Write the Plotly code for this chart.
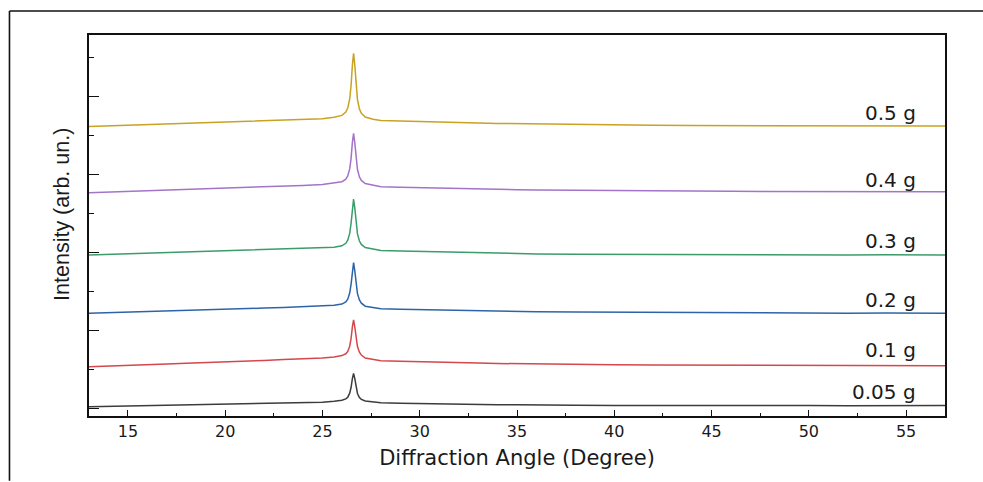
import plotly.graph_objects as go

# Diffraction angle grid (degrees)
angle = [13, 14, 15, 16, 17, 18, 19, 20, 21, 22, 23, 24, 25, 25.6, 26.0, 26.2, 26.3, 26.4,
         26.47, 26.54, 26.6, 26.66, 26.73, 26.8, 26.9, 27.0, 27.2, 27.6, 28, 29, 30, 31, 32,
         33, 34, 35, 36, 38, 40, 42, 44, 46, 48, 50, 52, 54, 55, 56, 57]

# Stacked intensities (arb. units)
i_005 = [1.6, 2.0, 1.9, 2.4, 2.6, 3.1, 3.3, 3.9, 4.1, 4.7, 5.0, 5.6, 6.1, 7.1, 8.0, 9.4, 11.1, 15.1,
         20.8, 30.0, 35.0, 29.9, 20.7, 14.8, 10.8, 8.9, 7.3, 6.3, 5.5, 5.1, 4.7, 4.5, 4.1,
         4.0, 3.6, 3.5, 3.2, 3.1, 2.9, 3.0, 2.7, 2.9, 2.6, 2.8, 2.6, 2.9, 3.1, 2.7, 2.8]
i_01 = [41.6, 42.1, 42.9, 43.4, 44.3, 45.0, 45.6, 46.4, 47.0, 47.9, 48.8, 49.5, 50.3, 51.4, 52.7,
        54.5, 56.9, 62.1, 69.7, 81.7, 88.3, 81.6, 69.5, 61.7, 56.1, 53.2, 50.2, 48.6, 47.6, 47.0,
        46.4, 46.0, 45.5, 45.2, 44.8, 44.5, 44.2, 43.8, 43.6, 43.3, 43.2, 43.0, 42.8, 42.9, 42.6,
        42.8, 42.5, 42.7, 42.6]
i_02 = [95.0, 95.5, 96.1, 96.6, 97.2, 97.7, 98.4, 98.9, 99.5, 100.2, 100.8, 101.4, 102.0, 103.0,
        104.2, 106.4, 109.1, 115.2, 124.0, 138.0, 145.6, 137.8, 123.7, 114.7, 108.3, 105.1, 102.1,
        100.5, 99.6, 99.0, 98.6, 98.2, 97.9, 97.5, 97.3, 96.9, 96.6, 96.2, 96.0, 95.7, 95.6, 95.4,
        95.2, 95.4, 95.1, 95.3, 95.0, 95.2, 95.0]
i_03 = [153.3, 153.9, 154.5, 155.1, 155.8, 156.4, 157.0, 157.7, 158.3, 159.0, 159.6, 160.0, 160.3,
        161.1, 162.5, 165.0, 168.1, 174.9, 185.0, 200.9, 209.3, 200.7, 184.7, 174.4, 167.3, 163.9,
        160.7, 158.9, 157.8, 157.2, 156.7, 156.3, 155.8, 155.5, 155.1, 154.8, 154.4, 154.1, 153.9,
        153.8, 153.5, 153.7, 153.4, 153.6, 153.3, 153.5, 153.2, 153.4, 153.3]
i_04 = [215.6, 216.2, 216.8, 217.4, 218.0, 218.7, 219.3, 220.0, 220.7, 221.4, 222.1, 222.9, 223.7,
        225.1, 226.6, 229.1, 232.3, 239.4, 249.7, 266.1, 275.0, 265.9, 249.3, 238.8, 231.4, 227.9,
        224.8, 222.9, 221.6, 221.0, 220.5, 220.0, 219.6, 219.3, 218.9, 218.6, 218.3, 217.9, 217.6,
        217.3, 217.1, 217.0, 216.8, 216.9, 216.6, 216.8, 216.5, 216.7, 216.6]
i_05 = [281.8, 282.4, 283.0, 283.6, 284.2, 284.9, 285.5, 286.2, 286.9, 287.6, 288.2, 288.9, 289.6,
        291.1, 292.9, 296.2, 300.3, 309.3, 322.5, 343.6, 355.0, 343.4, 322.1, 308.7, 299.4, 295.1,
        291.3, 289.1, 287.7, 287.1, 286.6, 286.1, 285.7, 285.3, 284.9, 284.6, 284.3, 283.8, 283.4,
        283.1, 282.8, 282.7, 282.5, 282.6, 282.3, 282.5, 282.2, 282.4, 282.3]

labels = ["0.05 g", "0.1 g", "0.2 g", "0.3 g", "0.4 g", "0.5 g"]
label_y = [16.6, 58.3, 108.3, 167.6, 228.3, 295.0]
label_x = 55.6
colors = ["#3c3c3c", "#d4474c", "#2d64a8", "#3b9c6b", "#a374c8", "#c9a222"]
series = [i_005, i_01, i_02, i_03, i_04, i_05]

fig = go.Figure()
for name, ys, c in zip(labels, series, colors):
    fig.add_trace(go.Scatter(x=angle, y=ys, mode="lines", name=name,
                             line=dict(color=c, width=1.5), showlegend=False))

for name, ly in zip(labels, label_y):
    fig.add_annotation(x=label_x, y=ly, text=name, showarrow=False, xanchor="right",
                       yanchor="middle", font=dict(family="DejaVu Sans", size=20, color="#1a1a1a"))

fig.add_annotation(xref="paper", yref="paper", x=-0.0317, y=0.53, text="Intensity (arb. un.)",
                   textangle=-90, showarrow=False, xanchor="center", yanchor="middle",
                   font=dict(family="Liberation Sans, Arial", size=21.5, color="#1a1a1a"))

# outer frame (only left and top edges fall inside the picture)
fig.add_shape(type="line", xref="paper", yref="paper", x0=-0.0929, x1=-0.0929, y0=-0.17, y1=1.063,
              line=dict(color="#111111", width=1.6))
fig.add_shape(type="line", xref="paper", yref="paper", x0=-0.0929, x1=1.045, y0=1.063, y1=1.063,
              line=dict(color="#111111", width=1.6))

fig.update_layout(
    width=983, height=482,
    margin=dict(l=89, r=38, t=35, b=66),
    paper_bgcolor="white", plot_bgcolor="white",
    xaxis=dict(range=[13, 57], dtick=5, tick0=15, ticks="inside", ticklen=6, tickwidth=1.4,
               tickcolor="#111", showline=True, linecolor="#111", linewidth=1.6, mirror=True,
               showgrid=False, zeroline=False,
               minor=dict(dtick=2.5, tick0=12.5, ticks="inside", ticklen=3, tickwidth=1.2, tickcolor="#111"),
               tickfont=dict(family="DejaVu Sans", size=16, color="#1a1a1a"),
               title=dict(text="Diffraction Angle (Degree)", standoff=10,
                          font=dict(family="DejaVu Sans", size=21, color="#1a1a1a"))),
    yaxis=dict(range=[-7.7, 373.3], tick0=0, dtick=77.9, ticks="inside", ticklen=10, tickwidth=1.4,
               tickcolor="#111", showline=True, linecolor="#111", linewidth=1.6, mirror=True,
               showgrid=False, zeroline=False, showticklabels=False,
               minor=dict(dtick=38.95, tick0=0, ticks="inside", ticklen=5, tickwidth=1.2, tickcolor="#111")),
)

fig.write_html("out.html")
